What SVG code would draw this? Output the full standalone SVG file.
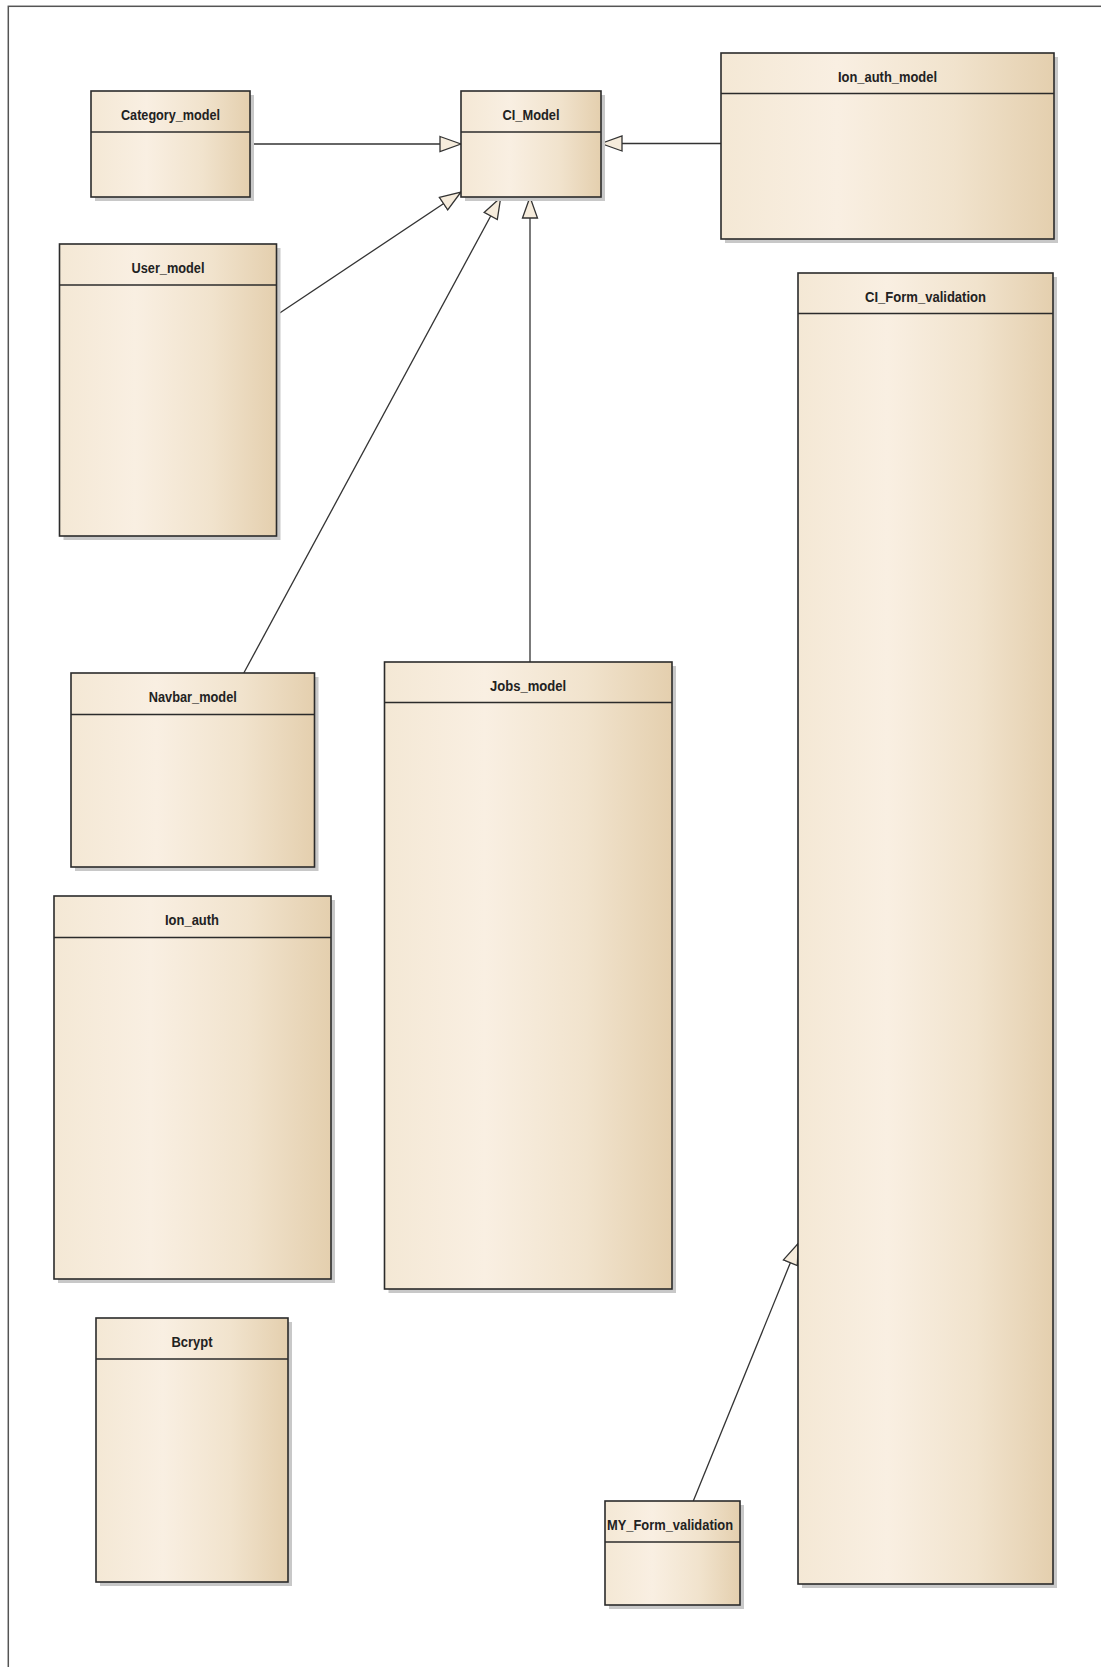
<svg xmlns="http://www.w3.org/2000/svg" width="1101" height="1667" viewBox="0 0 1101 1667">
<style>
.shadow{fill:#c8c8c8;}
.box{fill:url(#g);stroke:#2b2b2b;stroke-width:1.6;}
.div{stroke:#2b2b2b;stroke-width:1.6;}
.lbl{font-family:"Liberation Sans",Arial,sans-serif;font-weight:bold;font-size:14.5px;fill:#222;text-anchor:middle;}
.edge{stroke:#333;stroke-width:1.3;fill:none;marker-end:url(#tri);}
.frame{fill:none;stroke:#555;stroke-width:1.5;}
</style>
<defs>
<linearGradient id="g" x1="0" y1="0" x2="1" y2="0">
<stop offset="0" stop-color="#f4e8d5"/>
<stop offset="0.35" stop-color="#f9efe2"/>
<stop offset="0.7" stop-color="#f1e3cd"/>
<stop offset="1" stop-color="#e4cfae"/>
</linearGradient>
<marker id="tri" viewBox="0 0 23 18" refX="22" refY="9" markerWidth="23" markerHeight="18" markerUnits="userSpaceOnUse" orient="auto">
<path d="M1,1.5 L22,9 L1,16.5 Z" fill="#f6ecdc" stroke="#333" stroke-width="1.3" stroke-linejoin="miter"/>
</marker>
</defs>
<rect width="1101" height="1667" fill="#ffffff"/>
<rect class="frame" x="8.3" y="6.3" width="1200" height="1700"/>

<g id="connectors">
<path class="edge" d="M250,144 L461,144"/>
<path class="edge" d="M721,143.5 L601,143.5"/>
<path class="edge" d="M276.7,315 L461,192"/>
<path class="edge" d="M243.8,673 L500.7,197.5"/>
<path class="edge" d="M530,662 L530,197"/>
<path class="edge" d="M693.3,1501 L798.3,1243.3"/>
</g>

<g id="Category_model">
<rect class="shadow" x="95" y="95" width="159" height="106"/>
<rect class="box" x="91" y="91" width="159" height="106"/>
<line class="div" x1="91" y1="132" x2="250" y2="132"/>
<text class="lbl" x="170.5" y="119.5" textLength="99" lengthAdjust="spacingAndGlyphs">Category_model</text>
</g>

<g id="CI_Model">
<rect class="shadow" x="465" y="95" width="140" height="106"/>
<rect class="box" x="461" y="91" width="140" height="106"/>
<line class="div" x1="461" y1="132" x2="601" y2="132"/>
<text class="lbl" x="531" y="119.5" textLength="57" lengthAdjust="spacingAndGlyphs">CI_Model</text>
</g>

<g id="Ion_auth_model">
<rect class="shadow" x="725" y="57" width="333" height="186"/>
<rect class="box" x="721" y="53" width="333" height="186"/>
<line class="div" x1="721" y1="93.5" x2="1054" y2="93.5"/>
<text class="lbl" x="887.5" y="81.5" textLength="99" lengthAdjust="spacingAndGlyphs">Ion_auth_model</text>
</g>

<g id="User_model">
<rect class="shadow" x="63.5" y="248" width="217" height="292"/>
<rect class="box" x="59.5" y="244" width="217" height="292"/>
<line class="div" x1="59.5" y1="285" x2="276.5" y2="285"/>
<text class="lbl" x="168" y="272.5" textLength="73" lengthAdjust="spacingAndGlyphs">User_model</text>
</g>

<g id="CI_Form_validation">
<rect class="shadow" x="802" y="277" width="255" height="1311"/>
<rect class="box" x="798" y="273" width="255" height="1311"/>
<line class="div" x1="798" y1="313.5" x2="1053" y2="313.5"/>
<text class="lbl" x="925.5" y="301.5" textLength="121" lengthAdjust="spacingAndGlyphs">CI_Form_validation</text>
</g>

<g id="Navbar_model">
<rect class="shadow" x="75" y="677" width="243.5" height="194"/>
<rect class="box" x="71" y="673" width="243.5" height="194"/>
<line class="div" x1="71" y1="714.5" x2="314.5" y2="714.5"/>
<text class="lbl" x="192.8" y="701.5" textLength="88" lengthAdjust="spacingAndGlyphs">Navbar_model</text>
</g>

<g id="Jobs_model">
<rect class="shadow" x="388.5" y="666" width="287.5" height="627"/>
<rect class="box" x="384.5" y="662" width="287.5" height="627"/>
<line class="div" x1="384.5" y1="702.5" x2="672" y2="702.5"/>
<text class="lbl" x="528" y="690.5" textLength="76" lengthAdjust="spacingAndGlyphs">Jobs_model</text>
</g>

<g id="Ion_auth">
<rect class="shadow" x="58" y="900" width="277" height="383"/>
<rect class="box" x="54" y="896" width="277" height="383"/>
<line class="div" x1="54" y1="937.5" x2="331" y2="937.5"/>
<text class="lbl" x="192" y="924.5" textLength="54" lengthAdjust="spacingAndGlyphs">Ion_auth</text>
</g>

<g id="Bcrypt">
<rect class="shadow" x="100" y="1322" width="192" height="264"/>
<rect class="box" x="96" y="1318" width="192" height="264"/>
<line class="div" x1="96" y1="1359" x2="288" y2="1359"/>
<text class="lbl" x="192" y="1346.5" textLength="41" lengthAdjust="spacingAndGlyphs">Bcrypt</text>
</g>

<g id="MY_Form_validation">
<rect class="shadow" x="609" y="1505" width="135" height="104"/>
<rect class="box" x="605" y="1501" width="135" height="104"/>
<line class="div" x1="605" y1="1542" x2="740" y2="1542"/>
<text class="lbl" x="670" y="1529.5" textLength="126" lengthAdjust="spacingAndGlyphs">MY_Form_validation</text>
</g>
</svg>
